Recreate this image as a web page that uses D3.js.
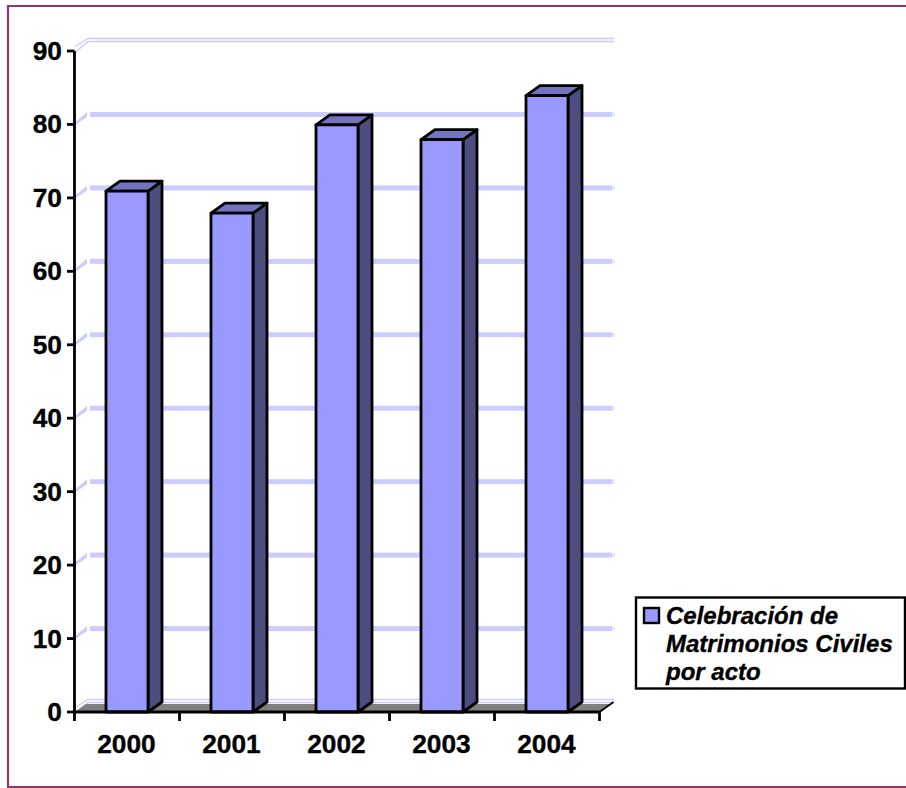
<!DOCTYPE html>
<html><head><meta charset="utf-8">
<script src="https://cdn.jsdelivr.net/npm/d3@7/dist/d3.min.js"></script>
<style>html,body{margin:0;padding:0;background:#fff}svg{display:block}text{font-family:"Liberation Sans",Arial,sans-serif;font-weight:bold;fill:#000;stroke:#000;stroke-width:.35px}</style>
</head><body><svg id="c" width="906" height="788"></svg>
<script>
const categories = ["2000","2001","2002","2003","2004"];
const values = [71,68,80,78,84];
const yTicks = [0,10,20,30,40,50,60,70,80,90];
const legendLines = ["Celebración de","Matrimonios Civiles","por acto"];

const svg = d3.select("#c");
const x = d3.scaleBand().domain(categories).range([74.5,599.5]).paddingInner(0).paddingOuter(0);
const y = d3.scaleLinear().domain([0,90]).range([712,51]);
const dx = 14, dy = -10;
const barW = 42;
const x0 = x.range()[0], x1 = x.range()[1];

// frame
svg.append("path").attr("d","M906,6H8V787H906").attr("fill","none").attr("stroke","#993366").attr("stroke-width",2.2);

// wall gridlines
const grid = svg.append("g");
const gridCol = "#ccccff";
yTicks.filter(t=>t>0&&t<90).forEach(t=>{
  const Y = y(t);
  grid.append("polygon").attr("points",[[76,Y],[76,Y-3],[87,Y-12.5],[87,Y-7.5]].join(" ")).attr("fill",gridCol);
  grid.append("rect").attr("x",90).attr("y",Y+dy-2.5).attr("width",522).attr("height",5).attr("fill",gridCol);
  grid.append("rect").attr("x",612).attr("y",Y+dy-2).attr("width",3).attr("height",4).attr("fill","#e6e6ff");
});
// top & bottom thin double lines
[90,0].forEach(t=>{
  const Y=y(t);
  [[-1.5,-2],[1.5,1]].forEach(([o,l])=>{
    grid.append("path").attr("d",`M${75},${Y+o+l-1}L${88},${Y+dy+o-1}H${614}`).attr("fill","none").attr("stroke",gridCol).attr("stroke-width",1.4);
  });
  grid.append("line").attr("x1",614).attr("x2",614).attr("y1",Y+dy-2.5).attr("y2",Y+dy+0.5).attr("stroke","#e6e6ff").attr("stroke-width",1.4);
});

// floor
svg.append("polygon").attr("points",[[x0,y(0)],[x0+11.5,y(0)-8],[x1+11.5,y(0)-8],[x1,y(0)]].join(" ")).attr("fill","#808080");

// bars
const bars = svg.append("g").attr("stroke","#000").attr("stroke-width",2.8).attr("stroke-linejoin","round");
categories.forEach((c,i)=>{
  const v = values[i];
  const l = x(c)+(x.bandwidth()-barW)/2, r = l+barW, t = y(v)+0.5, b = y(0);
  bars.append("polygon").attr("points",[[r,b],[r+dx,b+dy],[r+dx,t+dy],[r,t]].join(" ")).attr("fill","#4d4d80");
  bars.append("polygon").attr("points",[[l,t],[l+dx,t+dy],[r+dx,t+dy],[r,t]].join(" ")).attr("fill","#7373bf");
  bars.append("rect").attr("x",l).attr("y",t).attr("width",barW).attr("height",b-t).attr("fill","#9999ff");
});

// axes
const axes = svg.append("g").attr("stroke","#000").attr("stroke-width",2.8).attr("fill","none");
axes.append("path").attr("d",`M${x0},${y(90)}V${y(0)}H${x1}`);
axes.append("path").attr("d",`M${x1},${y(0)}L${x1+dx},${y(0)+dy}`).attr("stroke-width",1.8);
yTicks.forEach(t=>axes.append("line").attr("x1",67).attr("x2",x0).attr("y1",y(t)).attr("y2",y(t)));
categories.concat(["end"]).forEach((c,i)=>{
  const X = x0+i*x.step();
  axes.append("line").attr("x1",X).attr("x2",X).attr("y1",y(0)).attr("y2",721);
});

// labels
const fs = 26.3;
yTicks.forEach(t=>svg.append("text").attr("x",62).attr("y",y(t)+9).attr("text-anchor","end").attr("font-size",fs).text(t));
categories.forEach(c=>svg.append("text").attr("x",x(c)+x.bandwidth()/2-0.5).attr("y",753).attr("text-anchor","middle").attr("font-size",fs).text(c));

// legend
svg.append("rect").attr("x",636).attr("y",597.5).attr("width",269).attr("height",91).attr("fill","#fff").attr("stroke","#000").attr("stroke-width",2.4);
svg.append("rect").attr("x",644).attr("y",608).attr("width",15).attr("height",15).attr("fill","#9999ff").attr("stroke","#000").attr("stroke-width",2.4);
legendLines.forEach((s,i)=>svg.append("text").attr("x",666).attr("y",623.5+i*28).attr("font-size",24).attr("font-style","italic").text(s));
</script></body></html>
